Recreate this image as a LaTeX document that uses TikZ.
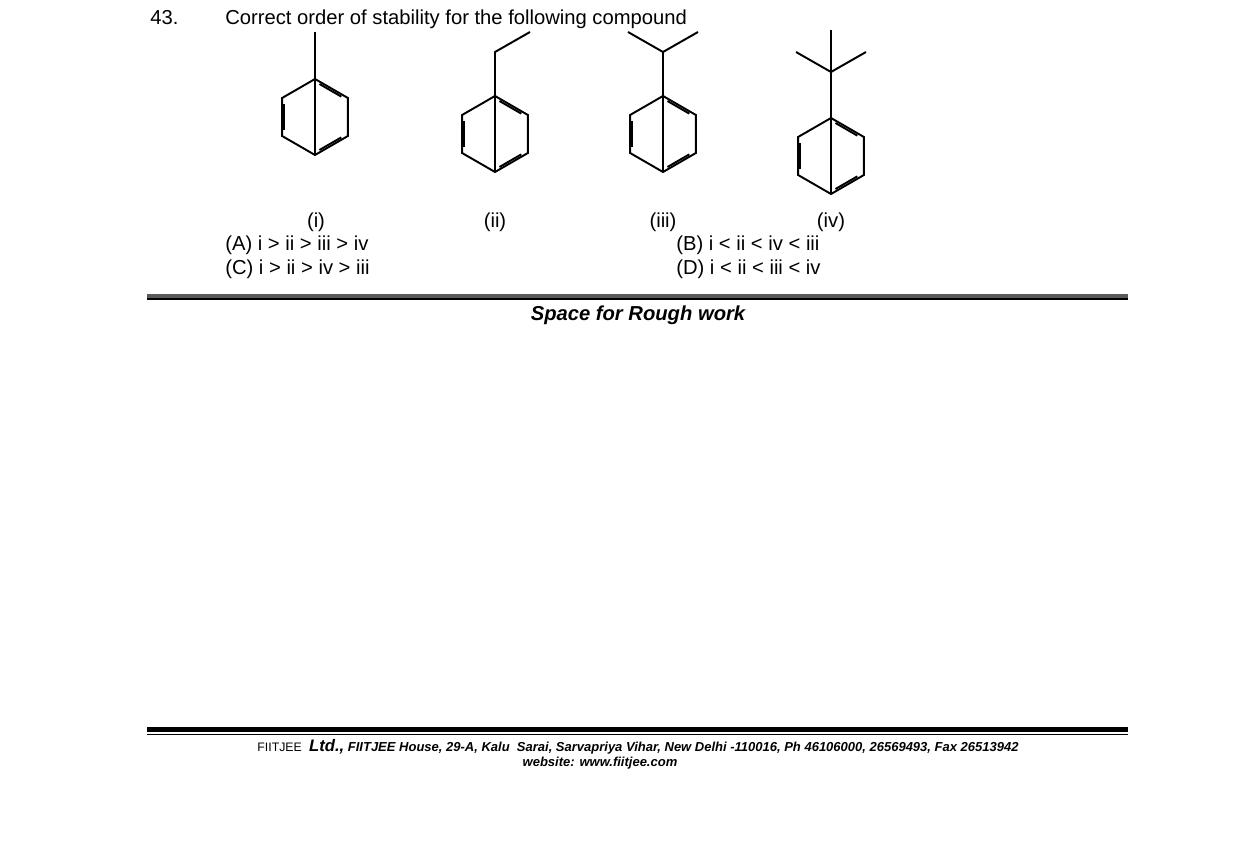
\documentclass[tikz,border=0pt]{standalone}
\usepackage{fontspec}
\setmainfont{Liberation Sans}
\usetikzlibrary{calc}

% benzene ring, pointy top: centre (#1,#2), name prefix #3
\newcommand{\benzring}[3]{%
  \foreach \k/\a in {1/90,2/30,3/-30,4/-90,5/-150,6/150}
    \coordinate (#3\k) at ($(#1,#2)+(\a:38)$);
  \coordinate (#3c) at (#1,#2);
  \draw[bond] (#31)--(#32)--(#33)--(#34)--(#35)--(#36)--cycle;
  \foreach \p/\q in {1/2,3/4,5/6}
    \draw[bond] ($(#3c)!0.8!(#3\p)!0.15!(#3c)!0.8!(#3\q)$) -- ($(#3c)!0.8!(#3\q)!0.15!(#3c)!0.8!(#3\p)$);
}

\begin{document}
\begin{tikzpicture}
  [x=0.02cm,y=-0.02cm,
   bond/.style={line width=1.1pt},
   txt/.style={inner sep=0pt,anchor=base west,font=\fontsize{11.5}{13}\selectfont},
   foot/.style={inner sep=0pt,anchor=base,font=\bfseries\itshape\fontsize{7.4}{9}\selectfont},
  ]
  \useasboundingbox (0,0) rectangle (1238,844);

  \node[txt] (qno) at (150,25) {43.};
  \node[txt] (qtext) at (225,25) {Correct order of stability for the following compound};

  % (i) toluene
  \benzring{315}{117}{a}
  \coordinate (a7) at (315,32);
  \draw[bond] (a1) -- (a7);

  % (ii) ethylbenzene
  \benzring{495}{134}{b}
  \coordinate (b7) at (495,52);
  \coordinate (b8) at (530,32);
  \draw[bond] (b1) -- (b7) -- (b8);

  % (iii) cumene
  \benzring{663}{134}{c}
  \coordinate (c7) at (663,52);
  \coordinate (c8) at (628,32);
  \coordinate (c9) at (698,32);
  \draw[bond] (c1) -- (c7) -- (c8);
  \draw[bond] (c7) -- (c9);

  % (iv) tert-butylbenzene
  \benzring{831}{156}{d}
  \coordinate (d7) at (831,72);
  \coordinate (d8) at (796,52);
  \coordinate (d9) at (866,52);
  \coordinate (d10) at (831,30);
  \draw[bond] (d1) -- (d7) -- (d8);
  \draw[bond] (d7) -- (d9);
  \draw[bond] (d7) -- (d10);

  \node[txt,anchor=base] (li) at (316,228) {(i)};
  \node[txt,anchor=base] (lii) at (495,228) {(ii)};
  \node[txt,anchor=base] (liii) at (663,228) {(iii)};
  \node[txt,anchor=base] (liv) at (831,228) {(iv)};

  \node[txt] (optA) at (225,251) {(A) i > ii > iii > iv};
  \node[txt] (optB) at (676,251) {(B) i < ii < iv < iii};
  \node[txt] (optC) at (225,275) {(C) i > ii > iv > iii};
  \node[txt] (optD) at (676,275) {(D) i < ii < iii < iv};

  \fill[black!65] (147,294) rectangle (1128,300);
  \fill[black] (147,298) rectangle (1128,300);
  \node[txt,anchor=base,font=\bfseries\itshape\fontsize{11.5}{13}\selectfont] (rough) at (638,321) {Space for Rough work};

  \fill[black] (147,727) rectangle (1128,732);
  \fill[black] (147,734) rectangle (1128,735);
  \node[foot] (addr) at (638,751) {{\upshape\mdseries\fontsize{7}{9}\selectfont FIITJEE}\ \ {\fontsize{9.5}{10}\selectfont Ltd.,} FIITJEE House, 29-A, Kalu\ \ Sarai, Sarvapriya Vihar, New Delhi -110016, Ph 46106000, 26569493, Fax 26513942};
  \node[foot] (web) at (600,766) {website: www.fiitjee.com};
\end{tikzpicture}
\end{document}
